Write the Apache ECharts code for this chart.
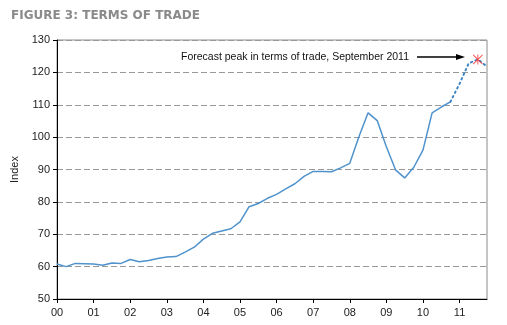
<!DOCTYPE html>
<html>
<head>
<meta charset="utf-8">
<script src="https://cdn.jsdelivr.net/npm/echarts@6/dist/echarts.min.js"></script>
<style>
html,body{margin:0;padding:0;background:#fff;}
#c{width:507px;height:325px;}
</style>
</head>
<body>
<div id="c"></div>
<script>
// Quarterly categories, 2000 Q1 .. 2011 Q4
var categories = [];
for (var y = 2000; y <= 2011; y++) { for (var q = 1; q <= 4; q++) { categories.push(y + 'Q' + q); } }
var yearTickLabels = ['00','01','02','03','04','05','06','07','08','09','10','11'];

// Actual terms of trade index (2000Q1 .. 2010Q4)
var actual = [60.8, 60.0, 61.0, 60.9, 60.8, 60.4, 61.1, 61.0,
              62.2, 61.5, 61.9, 62.5, 63.0, 63.1, 64.5, 66.0,
              68.5, 70.3, 71.0, 71.7, 73.8, 78.5, 79.5, 81.1,
              82.3, 84.0, 85.6, 87.9, 89.4, 89.4, 89.3, 90.5,
              91.9, 100.1, 107.5, 105.1, 97.0, 89.9, 87.4, 90.7,
              96.0, 107.5, 109.3, 110.9];
// Forecast (2010Q4 .. 2011Q4)
var forecastValues = [110.9, 116.5, 122.8, 124.0, 121.8];
var forecastStartIndex = 43;
// Forecast peak marker (September 2011)
var peakCategory = '2011Q3';
var peakValue = 124.0;

var annotationText = 'Forecast peak in terms of trade, September 2011';

var forecast = categories.map(function (c, i) {
  var j = i - forecastStartIndex;
  return (j >= 0 && j < forecastValues.length) ? forecastValues[j] : null;
});

var asterisk = 'path://M9,0L11,0L11,20L9,20Z M0,1.4L1.4,0L20,18.6L18.6,20Z M18.6,0L20,1.4L1.4,20L0,18.6Z';

var chart = echarts.init(document.getElementById('c'), null, {renderer: 'canvas'});
var font = 'Liberation Sans, Arial, sans-serif';
chart.setOption({
  animation: false,
  backgroundColor: '#ffffff',
  title: {
    text: 'FIGURE 3: TERMS OF TRADE',
    left: 6, top: 5,
    textStyle: {fontFamily: 'DejaVu Sans, Verdana, sans-serif', fontSize: 12, fontWeight: 'bold', color: '#8a8a8a'}
  },
  grid: {left: 57, right: 20, top: 40, bottom: 26, show: true, borderColor: '#8c8c8c', borderWidth: 1, backgroundColor: 'transparent'},
  xAxis: {
    type: 'category',
    data: categories,
    boundaryGap: false,
    axisLine: {lineStyle: {color: '#000', width: 1}},
    axisTick: {show: true, interval: 3, length: 4, lineStyle: {color: '#000'}},
    axisLabel: {
      interval: 3, margin: 8, color: '#222', fontFamily: font, fontSize: 11,
      formatter: function (v, i) { return yearTickLabels[Math.floor(i / 4)]; }
    },
    splitLine: {show: false}
  },
  yAxis: {
    type: 'value',
    min: 50, max: 130, interval: 10,
    name: 'Index',
    nameLocation: 'middle',
    nameGap: 34,
    nameTextStyle: {fontFamily: font, fontSize: 11, color: '#222'},
    axisLine: {show: true, lineStyle: {color: '#000', width: 1}},
    axisTick: {show: true, length: 4, lineStyle: {color: '#000'}},
    axisLabel: {margin: 7, color: '#222', fontFamily: font, fontSize: 11},
    splitLine: {show: true, lineStyle: {color: '#999', type: [6, 3], width: 1}}
  },
  series: [
    {
      type: 'line', data: actual, showSymbol: false, symbol: 'none',
      lineStyle: {color: '#4f92cc', width: 1.5}, z: 3
    },
    {
      type: 'line', data: forecast, showSymbol: false, symbol: 'none', connectNulls: false,
      lineStyle: {color: '#3f86c6', width: 2, type: [1.5, 3.5], cap: 'round'}, z: 3
    },
    {
      type: 'scatter', data: [[peakCategory, peakValue]], symbol: asterisk, symbolSize: 10,
      itemStyle: {color: '#ff3030'}, z: 4
    }
  ],
  graphic: [
    {type: 'text', x: 409, y: 57, style: {text: annotationText, font: '10.5px "Liberation Sans", Arial, sans-serif', fill: '#111', textAlign: 'right', textVerticalAlign: 'middle'}},
    {type: 'line', shape: {x1: 417, y1: 57, x2: 458, y2: 57}, style: {stroke: '#000', lineWidth: 1.5}},
    {type: 'polygon', shape: {points: [[465, 57], [456, 54], [456, 60]]}, style: {fill: '#000'}}
  ]
});
</script>
</body>
</html>
